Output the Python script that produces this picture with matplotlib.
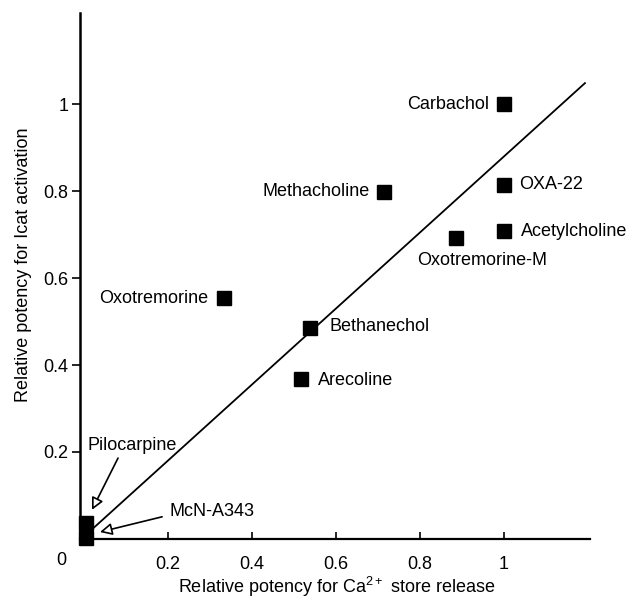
import matplotlib
matplotlib.use("Agg")
from matplotlib import pyplot as plt

plt.rcParams["font.family"] = ["Liberation Sans", "DejaVu Sans"]
plt.rcParams["mathtext.default"] = "regular"

# Agonists: relative potency (Ca2+ store release, Icat activation)
names = ["Carbachol", "Methacholine", "OXA-22", "Acetylcholine", "Oxotremorine-M",
         "Oxotremorine", "Bethanechol", "Arecoline", "Pilocarpine", "McN-A343"]
ca_release = [1.0, 0.714, 1.0, 1.0, 0.886, 0.333, 0.538, 0.517, 0.004, 0.004]
icat = [1.0, 0.798, 0.814, 0.708, 0.692, 0.554, 0.485, 0.368, 0.037, 0.002]

# label offsets in points (dx, dy) and alignment for each point
label_dx = [-11, -10, 11, 12, 19, -11, 14, 12, None, None]
label_dy = [0, 0, 0, 0, -16, 0, 1, -1, None, None]
label_ha = ["right", "right", "left", "left", "center", "right", "left", "left", None, None]

# regression line
fit_slope = 0.874
fit_icpt = 0.0055
fit_x = [0.012, 1.193]

# arrow callouts: (label, text pos, arrow start, arrow tip)
callout_names = ["Pilocarpine", "McN-A343"]
callout_text = [(0.114, 0.216), (0.305, 0.064)]
callout_start = [(0.081, 0.186), (0.186, 0.051)]
callout_tip = [(0.019, 0.067), (0.038, 0.016)]

xticks = [0.2, 0.4, 0.6, 0.8, 1.0]
xticklabels = ["0.2", "0.4", "0.6", "0.8", "1"]
yticks = [0.2, 0.4, 0.6, 0.8, 1.0]
yticklabels = ["0.2", "0.4", "0.6", "0.8", "1"]

fig = plt.figure(figsize=(6.26, 5.98), dpi=100)
ax = fig.add_axes([0.1275, 0.0987, 0.815, 0.880])

ax.plot(fit_x, [fit_slope * x + fit_icpt for x in fit_x], color="black", linewidth=1.3)
ax.plot(ca_release, icat, linestyle="none", marker="s", markersize=10,
        color="black", clip_on=False, zorder=3)

for i, name in enumerate(names):
    if label_dx[i] is None:
        continue
    ax.annotate(name, (ca_release[i], icat[i]), xytext=(label_dx[i], label_dy[i]),
                textcoords="offset points", ha=label_ha[i], va="center", fontsize=13)

for name, txt, start, tip in zip(callout_names, callout_text, callout_start, callout_tip):
    ax.text(txt[0], txt[1], name, ha="center", va="center", fontsize=13)
    ax.annotate("", xy=tip, xytext=start,
                arrowprops={"arrowstyle": "-|>", "facecolor": "white",
                            "edgecolor": "black", "linewidth": 1.2,
                            "mutation_scale": 18, "shrinkA": 0, "shrinkB": 0})

ax.set_xlim(-0.01, 1.205)
ax.set_ylim(0, 1.21)

for side in ["top", "right"]:
    ax.spines[side].set_visible(False)
ax.spines["left"].set_linewidth(1.8)
ax.spines["bottom"].set_linewidth(1.6)

ax.set_xticks(xticks)
ax.set_xticklabels(xticklabels)
ax.set_yticks(yticks)
ax.set_yticklabels(yticklabels)
ax.tick_params(axis="x", direction="in", length=5, width=1.2, pad=12, labelsize=13)
ax.tick_params(axis="y", direction="out", length=6, width=1.2, pad=2, labelsize=13)

# shared corner zero
ax.text(-0.055, -0.05, "0", ha="center", va="center", fontsize=13, clip_on=False)

ax.set_xlabel("Relative potency for Ca$^{2+}$ store release", fontsize=13)
ax.xaxis.label.set_verticalalignment("baseline")
ax.xaxis.set_label_coords(0.504, -0.1026)
ax.set_ylabel("Relative potency for Icat activation", fontsize=13)
ax.yaxis.set_label_coords(-0.11, 0.522)
ax.yaxis.label.set_verticalalignment("center")

fig.savefig("out.png", dpi=100)
